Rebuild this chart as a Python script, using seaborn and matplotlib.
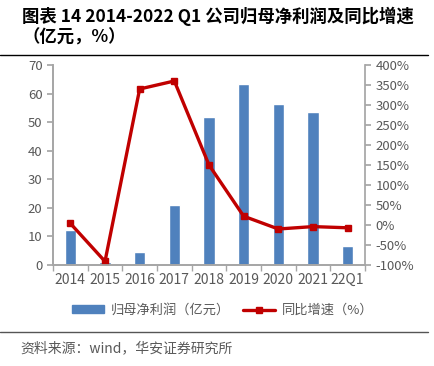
import numpy as np
import pandas as pd
import matplotlib
matplotlib.use("Agg")
import matplotlib.pyplot as plt
from matplotlib.lines import Line2D
from matplotlib.patches import Patch
from matplotlib.ticker import FixedLocator
import seaborn as sns

# ----------- données -----------
periods = ['2014', '2015', '2016', '2017', '2018', '2019', '2020', '2021', '22Q1']
profit = [12.2, 1.0, 4.5, 21.0, 51.9, 63.3, 56.3, 53.7, 6.8]      # 亿元
growth = [4, -91, 340, 360, 150, 22, -10, -4, -7]                  # %

bar_color = '#4F81BD'
line_color = '#C00000'
grey = '#595959'
spine_grey = '#A6A6A6'

sns.set_theme(style='white')
plt.rcParams['font.family'] = ['Noto Sans CJK SC', 'DejaVu Sans']

fig = plt.figure(figsize=(4.35, 3.66), dpi=100)
ax = fig.add_axes([53 / 435, 101 / 366, 312 / 435, 200 / 366])

df = pd.DataFrame({'period': periods, 'profit': profit, 'growth': growth})
sns.barplot(data=df, x='period', y='profit', color=bar_color, width=0.33,
            saturation=1, ax=ax)

ax2 = ax.twinx()
ax2.plot(np.arange(len(periods)), df['growth'], color=line_color, lw=2.4,
         marker='s', ms=5)

ax.set_xlim(-0.5, len(periods) - 0.5)
ax.set_ylim(0, 70)
ax.set_yticks(range(0, 71, 10))
ax2.set_ylim(-100, 400)
ax2.set_yticks(range(-100, 401, 50))
ax2.set_yticklabels([f'{v}%' for v in range(-100, 401, 50)])

ax.set_xlabel('')
ax.set_ylabel('')
ax.xaxis.set_minor_locator(FixedLocator(np.arange(-0.5, len(periods), 1)))
ax.tick_params(axis='x', which='major', length=0, labelsize=10, colors=grey, pad=6)
ax.tick_params(axis='x', which='minor', length=4, color=spine_grey, bottom=True)
ax.tick_params(axis='y', length=4, color=spine_grey, labelsize=9.5, labelcolor=grey,
               left=True)
ax2.tick_params(axis='y', length=4, color=spine_grey, labelsize=9.5, labelcolor=grey,
                right=True)

for a in (ax, ax2):
    a.spines['top'].set_visible(False)
    for s in ('left', 'right', 'bottom'):
        a.spines[s].set_color(spine_grey)
ax.spines['right'].set_visible(False)

# légende
handles = [Patch(color=bar_color, label='归母净利润（亿元）'),
           Line2D([0], [0], color=line_color, lw=2.4, marker='s', ms=4,
                  label='同比增速（%）')]
fig.legend(handles=handles, loc='center', bbox_to_anchor=(0.512, 0.152), ncol=2,
           frameon=False, fontsize=9.5, labelcolor=grey, handlelength=2.4,
           handleheight=0.5, handletextpad=0.5, columnspacing=1.0)

# titre et source
fig.text(22 / 435, 1 - 16 / 366, '图表 14 2014-2022 Q1 公司归母净利润及同比增速',
         fontsize=12.5, fontweight='bold', va='center', ha='left', color='black')
fig.text(22 / 435, 1 - 38 / 366, '（亿元，%）',
         fontsize=12.5, fontweight='bold', va='center', ha='left', color='black')
fig.add_artist(Line2D([0, 428 / 435], [1 - 55 / 366] * 2, color='black', lw=1))
fig.add_artist(Line2D([0, 428 / 435], [1 - 332 / 366] * 2, color='#555555', lw=1))
fig.text(20 / 435, 1 - 348 / 366, '资料来源：wind，华安证券研究所',
         fontsize=10, va='center', ha='left', color=grey)

fig.savefig('out.png', dpi=100)
